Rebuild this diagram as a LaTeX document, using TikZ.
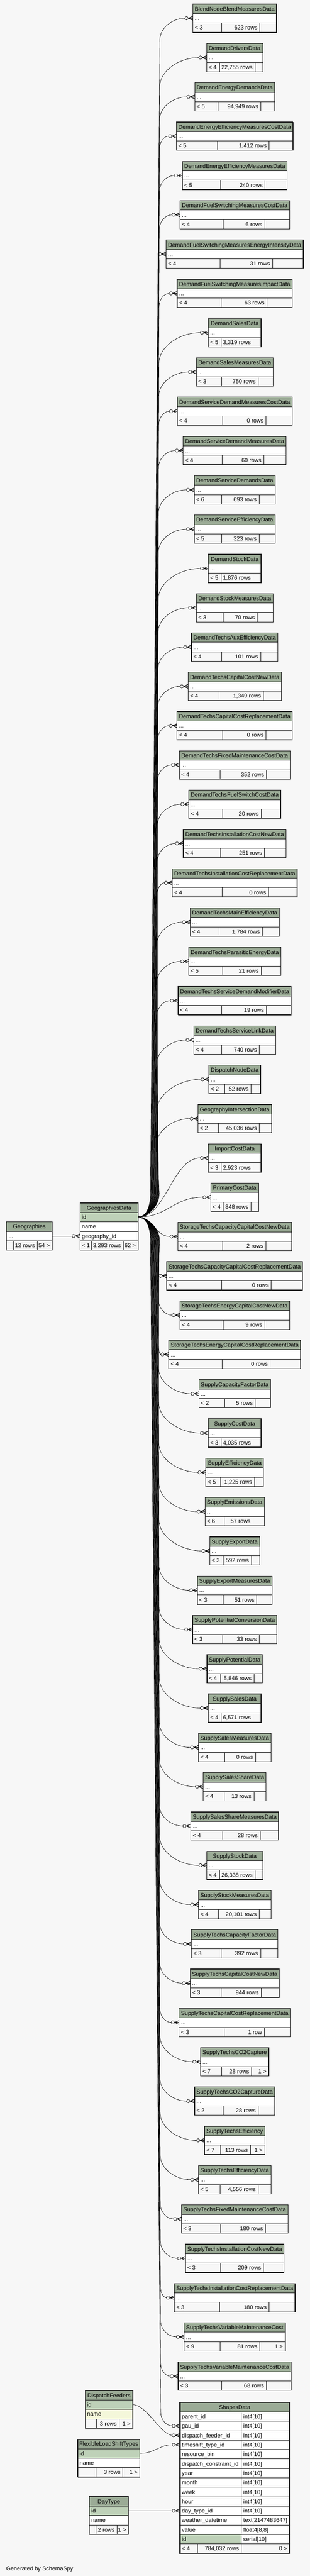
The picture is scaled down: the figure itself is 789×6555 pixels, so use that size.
\documentclass[tikz,border=0pt]{standalone}
\usepackage{fontspec}
\setmainfont{Liberation Sans}
\definecolor{bgc}{HTML}{F7F7F7}
\definecolor{hdrc}{HTML}{9BAB96}
\definecolor{pkc}{HTML}{BED1B8}
\definecolor{idxc}{HTML}{F4F7DA}
\definecolor{linec}{HTML}{1E1E1E}
\pgfdeclarelayer{bglayer}
\pgfdeclarelayer{edgelayer}
\pgfsetlayers{bglayer,edgelayer,main}
\newcommand\tfont{\fontsize{14.5pt}{17pt}\selectfont}
\newlength\mylen
\newcommand\meas[2]{\settowidth\mylen{\tfont #2}\pgfmathsetmacro#1{\mylen}}
\tikzset{
  cell/.style={draw=linec, line width=0.8pt, inner sep=0pt, outer sep=0pt, anchor=north west, minimum height=24pt},
  hd/.style={cell, fill=hdrc},
  wr/.style={cell, fill=white},
  pk/.style={cell, fill=pkc},
  ix/.style={cell, fill=idxc},
  ft/.style={cell, fill=bgc},
  txt/.style={inner sep=0pt, outer sep=0pt, font=\tfont, text=black},
  tframe/.style={draw=linec, line width=1.5pt},
  conn/.style={draw=black, line width=0.85pt},
  crowl/.style={draw=black, line width=1.3pt},
}
% crow's foot with open circle; #1 = box left x, #2 = y, #3 = name suffix
\newcommand\crowend[3]{%
  \draw[conn] (#1-16,#2) circle[radius=4.2pt];
  \draw[crowl] (#1-11.5,#2) -- (#1,#2-5) (#1-11.5,#2) -- (#1,#2) (#1-11.5,#2) -- (#1,#2+5);
  \coordinate (e#3) at (#1-20.2,#2);
}
% fan connector from GeographiesData.id to end e#1
\newcommand\fanedge[3]{%
  \pgfmathsetmacro\fex{#2-20.2}%
  \pgfmathtruncatemacro\fup{(#3<3097) ? 1 : 0}%
  \ifnum\fup=1
    \pgfmathsetmacro\fvc{407-0.3*#1}%
    \pgfmathsetmacro\fvb{383+0.8*#1}%
    \def\fs{-1}%
  \else
    \pgfmathsetmacro\fvc{403+0.2*(#1-31)}%
    \pgfmathsetmacro\fvb{383+0.8*(61-#1)}%
    \def\fs{1}%
  \fi
  \pgfmathsetmacro\fdx{max(\fex-\fvc,0)}%
  \pgfmathsetmacro\fh{20+0.55*\fdx}%
  \pgfmathsetmacro\fad{abs(#3-3097)}%
  \pgfmathtruncatemacro\fsingle{(\fad<\fh+85) ? 1 : 0}%
  \begin{pgfonlayer}{edgelayer}
  \ifnum\fsingle=1
    \pgfmathsetmacro\fa{352+0.45*(\fex-352)}%
    \pgfmathsetmacro\fb{\fex-0.45*(\fex-352)}%
    \draw[conn] (gdid.east) .. controls (\fa,3097) and (\fb,#3) .. (e#1);
  \else
    \pgfmathsetmacro\fyb{3097+(\fs)*60}%
    \pgfmathsetmacro\fyba{3097+(\fs)*25}%
    \pgfmathsetmacro\fyc{#3-(\fs)*\fh}%
    \pgfmathsetmacro\fyd{#3-(\fs)*0.45*\fh}%
    \pgfmathsetmacro\fxd{\fex-0.5*\fdx}%
    \draw[conn] (gdid.east) .. controls (372,3097) and (\fvb,\fyba) .. (\fvb,\fyb) -- (\fvc,\fyc) .. controls (\fvc,\fyd) and (\fxd,#3) .. (e#1);
  \fi
  \end{pgfonlayer}
}
% pass 1 (outside the picture): measure a child table
\newcommand\measchild[5]{%
  \meas\mhw{#2}\meas\mwa{< #3}\meas\mwb{#4}\meas\mwc{#5}%
  \pgfmathsetmacro\mca{\mwa+11.5}%
  \pgfmathsetmacro\mcb{\mwb+11.5}%
  \pgfmathsetmacro\mcc{max(\mwc+11.5,20)}%
  \pgfmathsetmacro\mfs{\mca+\mcb+\mcc}%
  \pgfmathsetmacro\mW{max(\mhw+10,\mfs)}%
  \pgfmathsetmacro\mxt{\mW-\mfs}%
  \pgfmathsetmacro\mca{\mca+0.45*\mxt}%
  \pgfmathsetmacro\mcb{\mcb+0.30*\mxt}%
  \expandafter\xdef\csname cw@#1\endcsname{\mW}%
  \expandafter\xdef\csname ca@#1\endcsname{\mca}%
  \expandafter\xdef\csname cb@#1\endcsname{\mcb}%
}
% pass 2 (inside the picture): draw a child table
\newcommand\drawchild[5]{%
  \edef\mW{\csname cw@#1\endcsname}%
  \edef\mca{\csname ca@#1\endcsname}%
  \edef\mcb{\csname cb@#1\endcsname}%
  \pgfmathsetmacro\mcc{\mW-\mca-\mcb}%
  \pgfmathsetmacro\mL{597.5-\mW/2}%
  \pgfmathsetmacro\mT{10.5+100*#1}%
  \pgfmathsetmacro\myk{\mT+36}%
  \node[hd,minimum width=\mW pt] (h#1) at (\mL,\mT) {};
  \node[wr,minimum width=\mW pt] (c#1) at (\mL,\mT+24) {};
  \node[ft,minimum width=\mca pt] (fa#1) at (\mL,\mT+48) {};
  \node[ft,minimum width=\mcb pt] (fb#1) at (\mL+\mca,\mT+48) {};
  \node[ft,minimum width=\mcc pt] (fc#1) at (\mL+\mca+\mcb,\mT+48) {};
  \draw[tframe] (\mL,\mT) rectangle ++(\mW,72);
  \node[txt,anchor=base] (th#1) at (597.5,\mT+17.5) {#2};
  \node[txt,anchor=base west] (td#1) at (\mL+5,\mT+41.5) {...};
  \node[txt,anchor=base west] (ta#1) at (\mL+5,\mT+65.5) {< #3};
  \node[txt,anchor=base east] (tb#1) at (\mL+\mca+\mcb-6,\mT+65.5) {#4};
  \node[txt,anchor=base east] (tc#1) at (\mL+\mW-6,\mT+65.5) {#5};
  \crowend{\mL}{\myk}{#1}
  \fanedge{#1}{\mL}{\myk}
}
\newcommand\childlist{%
\child{0}{BlendNodeBlendMeasuresData}{3}{623 rows}{}%
\child{1}{DemandDriversData}{4}{22,755 rows}{}%
\child{2}{DemandEnergyDemandsData}{5}{94,949 rows}{}%
\child{3}{DemandEnergyEfficiencyMeasuresCostData}{5}{1,412 rows}{}%
\child{4}{DemandEnergyEfficiencyMeasuresData}{5}{240 rows}{}%
\child{5}{DemandFuelSwitchingMeasuresCostData}{4}{6 rows}{}%
\child{6}{DemandFuelSwitchingMeasuresEnergyIntensityData}{4}{31 rows}{}%
\child{7}{DemandFuelSwitchingMeasuresImpactData}{4}{63 rows}{}%
\child{8}{DemandSalesData}{5}{3,319 rows}{}%
\child{9}{DemandSalesMeasuresData}{3}{750 rows}{}%
\child{10}{DemandServiceDemandMeasuresCostData}{4}{0 rows}{}%
\child{11}{DemandServiceDemandMeasuresData}{4}{60 rows}{}%
\child{12}{DemandServiceDemandsData}{6}{693 rows}{}%
\child{13}{DemandServiceEfficiencyData}{5}{323 rows}{}%
\child{14}{DemandStockData}{5}{1,876 rows}{}%
\child{15}{DemandStockMeasuresData}{3}{70 rows}{}%
\child{16}{DemandTechsAuxEfficiencyData}{4}{101 rows}{}%
\child{17}{DemandTechsCapitalCostNewData}{4}{1,349 rows}{}%
\child{18}{DemandTechsCapitalCostReplacementData}{4}{0 rows}{}%
\child{19}{DemandTechsFixedMaintenanceCostData}{4}{352 rows}{}%
\child{20}{DemandTechsFuelSwitchCostData}{4}{20 rows}{}%
\child{21}{DemandTechsInstallationCostNewData}{4}{251 rows}{}%
\child{22}{DemandTechsInstallationCostReplacementData}{4}{0 rows}{}%
\child{23}{DemandTechsMainEfficiencyData}{4}{1,784 rows}{}%
\child{24}{DemandTechsParasiticEnergyData}{5}{21 rows}{}%
\child{25}{DemandTechsServiceDemandModifierData}{4}{19 rows}{}%
\child{26}{DemandTechsServiceLinkData}{4}{740 rows}{}%
\child{27}{DispatchNodeData}{2}{52 rows}{}%
\child{28}{GeographyIntersectionData}{2}{45,036 rows}{}%
\child{29}{ImportCostData}{3}{2,923 rows}{}%
\child{30}{PrimaryCostData}{4}{848 rows}{}%
\child{31}{StorageTechsCapacityCapitalCostNewData}{4}{2 rows}{}%
\child{32}{StorageTechsCapacityCapitalCostReplacementData}{4}{0 rows}{}%
\child{33}{StorageTechsEnergyCapitalCostNewData}{4}{9 rows}{}%
\child{34}{StorageTechsEnergyCapitalCostReplacementData}{4}{0 rows}{}%
\child{35}{SupplyCapacityFactorData}{2}{5 rows}{}%
\child{36}{SupplyCostData}{3}{4,035 rows}{}%
\child{37}{SupplyEfficiencyData}{5}{1,225 rows}{}%
\child{38}{SupplyEmissionsData}{6}{57 rows}{}%
\child{39}{SupplyExportData}{3}{592 rows}{}%
\child{40}{SupplyExportMeasuresData}{3}{51 rows}{}%
\child{41}{SupplyPotentialConversionData}{3}{33 rows}{}%
\child{42}{SupplyPotentialData}{4}{5,846 rows}{}%
\child{43}{SupplySalesData}{4}{6,571 rows}{}%
\child{44}{SupplySalesMeasuresData}{4}{0 rows}{}%
\child{45}{SupplySalesShareData}{4}{13 rows}{}%
\child{46}{SupplySalesShareMeasuresData}{4}{28 rows}{}%
\child{47}{SupplyStockData}{4}{26,338 rows}{}%
\child{48}{SupplyStockMeasuresData}{4}{20,101 rows}{}%
\child{49}{SupplyTechsCapacityFactorData}{3}{392 rows}{}%
\child{50}{SupplyTechsCapitalCostNewData}{3}{944 rows}{}%
\child{51}{SupplyTechsCapitalCostReplacementData}{3}{1 row}{}%
\child{52}{SupplyTechsCO2Capture}{7}{28 rows}{1 >}%
\child{53}{SupplyTechsCO2CaptureData}{2}{28 rows}{}%
\child{54}{SupplyTechsEfficiency}{7}{113 rows}{1 >}%
\child{55}{SupplyTechsEfficiencyData}{5}{4,556 rows}{}%
\child{56}{SupplyTechsFixedMaintenanceCostData}{3}{180 rows}{}%
\child{57}{SupplyTechsInstallationCostNewData}{3}{209 rows}{}%
\child{58}{SupplyTechsInstallationCostReplacementData}{3}{180 rows}{}%
\child{59}{SupplyTechsVariableMaintenanceCost}{9}{81 rows}{1 >}%
\child{60}{SupplyTechsVariableMaintenanceCostData}{3}{68 rows}{}%
}
% ShapesData row
\newcommand\srow[4]{%
  \pgfmathsetmacro\sy{6137+24*(#1-1)}%
  \node[#4,minimum width=156.5pt] (sn#1) at (458,\sy) {};
  \node[wr,minimum width=122.5pt] (st#1) at (614.5,\sy) {};
  \node[txt,anchor=base west] (snt#1) at (463,\sy+17.5) {#2};
  \node[txt,anchor=base west] (stt#1) at (619.5,\sy+17.5) {#3};
}
\begin{document}
\let\child\measchild
\childlist
\let\child\drawchild
\begin{tikzpicture}[x=1pt,y=-1pt]
\begin{pgfonlayer}{bglayer}
\fill[bgc] (0,0) rectangle (789,6555);
\end{pgfonlayer}
\useasboundingbox (0,0) rectangle (789,6555);

% GeographiesData
\node[hd,minimum width=148.4pt] (gdh) at (203.3,3061) {};
\node[pk,minimum width=148.4pt] (gdid) at (203.3,3085) {};
\node[wr,minimum width=148.4pt] (gdname) at (203.3,3109) {};
\node[wr,minimum width=148.4pt] (gdgeo) at (203.3,3133) {};
\node[ft,minimum width=29.4pt] (gdfa) at (203.3,3157) {};
\node[ft,minimum width=81.3pt] (gdfb) at (232.7,3157) {};
\node[ft,minimum width=37.7pt] (gdfc) at (314,3157) {};
\draw[tframe] (203.3,3061) rectangle (351.7,3181);
\node[txt,anchor=base] (gdht) at (277.5,3078.5) {GeographiesData};
\node[txt,anchor=base west] (gdidt) at (208.3,3102.5) {id};
\node[txt,anchor=base west] (gdnamet) at (208.3,3126.5) {name};
\node[txt,anchor=base west] (gdgeot) at (208.3,3150.5) {geography\_id};
\node[txt,anchor=base west] (gdfat) at (208.3,3174.5) {< 1};
\node[txt,anchor=base east] (gdfbt) at (308,3174.5) {3,293 rows};
\node[txt,anchor=base east] (gdfct) at (345.7,3174.5) {62 >};

% Geographies
\node[hd,minimum width=116pt] (gh) at (16.7,3109) {};
\node[wr,minimum width=116pt] (gdots) at (16.7,3133) {};
\node[ft,minimum width=17.3pt] (gfa) at (16.7,3157) {};
\node[ft,minimum width=61pt] (gfb) at (34,3157) {};
\node[ft,minimum width=37.7pt] (gfc) at (95,3157) {};
\draw[tframe] (16.7,3109) rectangle (132.7,3181);
\node[txt,anchor=base] (ght) at (74.7,3126.5) {Geographies};
\node[txt,anchor=base west] (gdotst) at (21.7,3150.5) {...};
\node[txt,anchor=base east] (gfbt) at (89,3174.5) {12 rows};
\node[txt,anchor=base east] (gfct) at (126.7,3174.5) {54 >};
\crowend{203.3}{3145}{geo}
\draw[conn] (gdots.east) -- (egeo);

% child tables
\childlist

% DispatchFeeders
\node[hd,minimum width=121.6pt] (dfh) at (216.7,6083) {};
\node[pk,minimum width=121.6pt] (dfid) at (216.7,6107) {};
\node[ix,minimum width=121.6pt] (dfname) at (216.7,6131) {};
\node[ft,minimum width=28.3pt] (dffa) at (216.7,6155) {};
\node[ft,minimum width=58.3pt] (dffb) at (245,6155) {};
\node[ft,minimum width=35pt] (dffc) at (303.3,6155) {};
\draw[tframe] (216.7,6083) rectangle (338.3,6179);
\node[txt,anchor=base] (dfht) at (277.5,6100.5) {DispatchFeeders};
\node[txt,anchor=base west] (dfidt) at (221.7,6124.5) {id};
\node[txt,anchor=base west] (dfnamet) at (221.7,6148.5) {name};
\node[txt,anchor=base east] (dffbt) at (297.3,6172.5) {3 rows};
\node[txt,anchor=base east] (dffct) at (332.3,6172.5) {1 >};

% FlexibleLoadShiftTypes
\node[hd,minimum width=158.5pt] (flh) at (197.8,6207) {};
\node[pk,minimum width=158.5pt] (flid) at (197.8,6231) {};
\node[wr,minimum width=158.5pt] (flname) at (197.8,6255) {};
\node[ft,minimum width=46.8pt] (flfa) at (197.8,6279) {};
\node[ft,minimum width=68.4pt] (flfb) at (244.6,6279) {};
\node[ft,minimum width=43.3pt] (flfc) at (313,6279) {};
\draw[tframe] (197.8,6207) rectangle (356.3,6303);
\node[txt,anchor=base] (flht) at (277.05,6224.5) {FlexibleLoadShiftTypes};
\node[txt,anchor=base west] (flidt) at (202.8,6248.5) {id};
\node[txt,anchor=base west] (flnamet) at (202.8,6272.5) {name};
\node[txt,anchor=base east] (flfbt) at (307,6296.5) {3 rows};
\node[txt,anchor=base east] (flfct) at (350.3,6296.5) {1 >};

% DayType
\node[hd,minimum width=99.5pt] (dth) at (227.5,6353) {};
\node[pk,minimum width=99.5pt] (dtid) at (227.5,6377) {};
\node[wr,minimum width=99.5pt] (dtname) at (227.5,6401) {};
\node[ft,minimum width=17.1pt] (dtfa) at (227.5,6425) {};
\node[ft,minimum width=53.4pt] (dtfb) at (244.6,6425) {};
\node[ft,minimum width=29pt] (dtfc) at (298,6425) {};
\draw[tframe] (227.5,6353) rectangle (327,6449);
\node[txt,anchor=base] (dtht) at (277.25,6370.5) {DayType};
\node[txt,anchor=base west] (dtidt) at (232.5,6394.5) {id};
\node[txt,anchor=base west] (dtnamet) at (232.5,6418.5) {name};
\node[txt,anchor=base east] (dtfbt) at (292,6442.5) {2 rows};
\node[txt,anchor=base east] (dtfct) at (321,6442.5) {1 >};

% ShapesData
\node[hd,minimum width=279pt] (sh) at (458,6113) {};
\node[txt,anchor=base] (sht) at (597.5,6130.5) {ShapesData};
\srow{1}{parent\_id}{int4[10]}{wr}
\srow{2}{gau\_id}{int4[10]}{wr}
\srow{3}{dispatch\_feeder\_id}{int4[10]}{wr}
\srow{4}{timeshift\_type\_id}{int4[10]}{wr}
\srow{5}{resource\_bin}{int4[10]}{wr}
\srow{6}{dispatch\_constraint\_id}{int4[10]}{wr}
\srow{7}{year}{int4[10]}{wr}
\srow{8}{month}{int4[10]}{wr}
\srow{9}{week}{int4[10]}{wr}
\srow{10}{hour}{int4[10]}{wr}
\srow{11}{day\_type\_id}{int4[10]}{wr}
\srow{12}{weather\_datetime}{text[2147483647]}{wr}
\srow{13}{value}{float4[8,8]}{wr}
\srow{14}{id}{serial[10]}{pk}
\node[ft,minimum width=44pt] (sfa) at (458,6473) {};
\node[ft,minimum width=112.5pt] (sfb) at (502,6473) {};
\node[ft,minimum width=122.5pt] (sfc) at (614.5,6473) {};
\node[txt,anchor=base west] (sfat) at (463,6490.5) {< 4};
\node[txt,anchor=base east] (sfbt) at (608.5,6490.5) {784,032 rows};
\node[txt,anchor=base east] (sfct) at (731,6490.5) {0 >};
\draw[tframe,line width=3pt] (458,6113) rectangle (737,6497);

% connectors into ShapesData
\crowend{458}{6173}{61}
\fanedge{61}{458}{6173}
\crowend{458}{6197}{df}
\draw[conn] (dfid.east) .. controls (372,6119) and (412,6197) .. (edf);
\crowend{458}{6221}{ts}
\draw[conn] (flid.east) .. controls (392,6243) and (408,6221) .. (ets);
\crowend{458}{6389}{dt}
\draw[conn] (dtid.east) -- (edt);

\node[txt,anchor=base west] (gen) at (16,6540.5) {Generated by SchemaSpy};
\end{tikzpicture}
\end{document}
